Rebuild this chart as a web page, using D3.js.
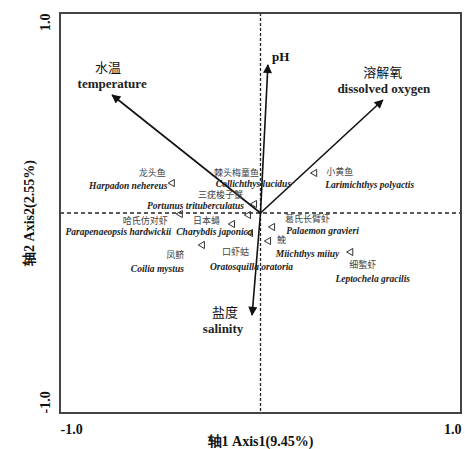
<!DOCTYPE html>
<html><head><meta charset="utf-8">
<script src="https://cdn.jsdelivr.net/npm/d3@7"></script>
<style>
html,body{margin:0;padding:0;background:#fff;}
svg{display:block;}
</style></head>
<body>
<svg id="chart" width="465" height="449"></svg>
<script>
// ---- data ----
const xTicks = [-1, 1];
const yTicks = [-1, 1];
const xTitle = "轴1 Axis1(9.45%)";
const yTitle = "轴2 Axis2(2.55%)";

const envNames = ["水温", "pH", "溶解氧", "盐度"];
const envEnglish = ["temperature", "", "dissolved oxygen", "salinity"];
const envX = [-0.74, 0.037, 0.61, -0.042];
const envY = [0.59, 0.74, 0.565, -0.51];

const spCn = ["龙头鱼", "棘头梅童鱼", "三疣梭子蟹", "哈氏仿对虾", "日本蟳", "凤鲚", "口虾蛄", "小黄鱼", "葛氏长臂虾", "鮸", "细螯虾"];
const spLatin = ["Harpadon nehereus", "Collichthys lucidus", "Portunus trituberculatus", "Parapenaeopsis hardwickii", "Charybdis japonica", "Coilia mystus", "Oratosquilla oratoria", "Larimichthys polyactis", "Palaemon gravieri", "Miichthys miiuy", "Leptochela gracilis"];
const spX = [-0.44, -0.03, -0.06, -0.40, -0.14, -0.29, -0.05, 0.27, 0.06, 0.04, 0.45];
const spY = [0.15, 0.045, -0.01, -0.005, -0.055, -0.16, -0.10, 0.20, -0.07, -0.14, -0.195];

// ---- layout (label offsets in px, relative to the symbol) ----
const spCnOff = [[-20,-7],[-18,-28],[-28,-17],[-35,10],[-26,0],[-27,13],[-15,22],[25,2],[35,-5],[13,2],[12,16]];
const spLaOff = [[-44,6],[-1,-17],[-53,-6],[-62,21],[-18,11],[-45,27],[1,37],[55,15],[50,7],[39,16],[22,30]];
const envLabOff = [[[-4,-23],[0,-7]], [[4,-4],null], [[0,-23],[1,-7]], [[-27,2],[-29,18]]];

const W = 465, H = 449;
const mL = 60, mR = 461, mT = 13, mB = 413;
const x = d3.scaleLinear().domain([-1, 1]).range([mL, mR]);
const y = d3.scaleLinear().domain([-1, 1]).range([mB, mT]);

const svg = d3.select("#chart");
const serif = "'Liberation Serif','Times New Roman',serif";
const cjk = "'Noto Sans CJK SC','Noto Sans CJK JP',sans-serif";

svg.append("defs").append("marker")
  .attr("id", "arr").attr("viewBox", "0 0 10 10")
  .attr("refX", 9).attr("refY", 5)
  .attr("markerWidth", 11).attr("markerHeight", 9)
  .attr("markerUnits", "userSpaceOnUse")
  .attr("orient", "auto")
  .append("path").attr("d", "M0,0 L10,5 L0,10 Z").attr("fill", "#111");

// dashed zero lines
svg.append("line").attr("x1", x(0)).attr("x2", x(0)).attr("y1", y(1)).attr("y2", y(-1))
  .attr("stroke", "#222").attr("stroke-width", 1.3).attr("stroke-dasharray", "3,2");
svg.append("line").attr("x1", x(-1)).attr("x2", x(1)).attr("y1", y(0)).attr("y2", y(0))
  .attr("stroke", "#222").attr("stroke-width", 1.3).attr("stroke-dasharray", "4,3");

// axes
const xAxis = svg.append("g").attr("transform", `translate(0,${mB})`)
  .call(d3.axisBottom(x).tickValues(xTicks).tickSize(0).tickPadding(11).tickFormat(d => d.toFixed(1)));
xAxis.select(".domain").remove();
xAxis.selectAll("text")
  .attr("font-family", serif).attr("font-weight", "bold").attr("font-size", 14).attr("fill", "#111")
  .attr("text-anchor", d => d < 0 ? "start" : "end");

const yAxis = svg.append("g").attr("transform", `translate(${mL},0)`)
  .call(d3.axisLeft(y).tickValues(yTicks).tickSize(0).tickPadding(0).tickFormat(d => d.toFixed(1)));
yAxis.select(".domain").remove();
yAxis.selectAll(".tick text")
  .attr("font-family", serif).attr("font-weight", "bold").attr("font-size", 14).attr("fill", "#111")
  .attr("x", null).attr("dy", null)
  .attr("transform", "translate(-10,0) rotate(-90)")
  .attr("text-anchor", d => d < 0 ? "start" : "end");

// frame
svg.append("rect").attr("x", mL).attr("y", mT).attr("width", mR - mL).attr("height", mB - mT)
  .attr("fill", "none").attr("stroke", "#444").attr("stroke-width", 2);

// axis titles
svg.append("text").attr("x", (mL + mR) / 2).attr("y", 446).attr("text-anchor", "middle")
  .attr("font-family", serif).attr("font-weight", "bold").attr("font-size", 14).attr("fill", "#111")
  .text(xTitle);
svg.append("text").attr("transform", `translate(34,${(mT + mB) / 2}) rotate(-90)`).attr("text-anchor", "middle")
  .attr("font-family", serif).attr("font-weight", "bold").attr("font-size", 14).attr("fill", "#111")
  .text(yTitle);

// environment arrows
envNames.forEach((n, i) => {
  svg.append("line").attr("x1", x(0)).attr("y1", y(0)).attr("x2", x(envX[i])).attr("y2", y(envY[i]))
    .attr("stroke", "#111").attr("stroke-width", 1.6).attr("marker-end", "url(#arr)");
  const tx = x(envX[i]), ty = y(envY[i]);
  const o = envLabOff[i];
  if (envEnglish[i]) {
    svg.append("text").attr("x", tx + o[0][0]).attr("y", ty + o[0][1]).attr("text-anchor", "middle")
      .attr("font-family", cjk).attr("font-size", 13).attr("fill", "#111").text(n);
    svg.append("text").attr("x", tx + o[1][0]).attr("y", ty + o[1][1]).attr("text-anchor", "middle")
      .attr("font-family", serif).attr("font-weight", "bold").attr("font-size", 13).attr("fill", "#222")
      .text(envEnglish[i]);
  } else {
    svg.append("text").attr("x", tx + o[0][0]).attr("y", ty + o[0][1]).attr("text-anchor", "start")
      .attr("font-family", serif).attr("font-weight", "bold").attr("font-size", 13).attr("fill", "#111").text(n);
  }
});

// species
const tri = d3.symbol().type(d3.symbolTriangle).size(22);
spCn.forEach((n, i) => {
  const px = x(spX[i]), py = y(spY[i]);
  svg.append("path").attr("d", tri()).attr("transform", `translate(${px},${py}) rotate(-90)`)
    .attr("fill", "none").attr("stroke", "#333").attr("stroke-width", 1);
  svg.append("text").attr("x", px + spCnOff[i][0]).attr("y", py + spCnOff[i][1]).attr("text-anchor", "middle")
    .attr("font-family", cjk).attr("font-size", 9).attr("fill", "#444").text(n);
  svg.append("text").attr("x", px + spLaOff[i][0]).attr("y", py + spLaOff[i][1]).attr("text-anchor", "middle")
    .attr("font-family", serif).attr("font-weight", "bold").attr("font-style", "italic").attr("font-size", 9.5)
    .attr("fill", "#222").text(spLatin[i]);
});
</script>
</body></html>
